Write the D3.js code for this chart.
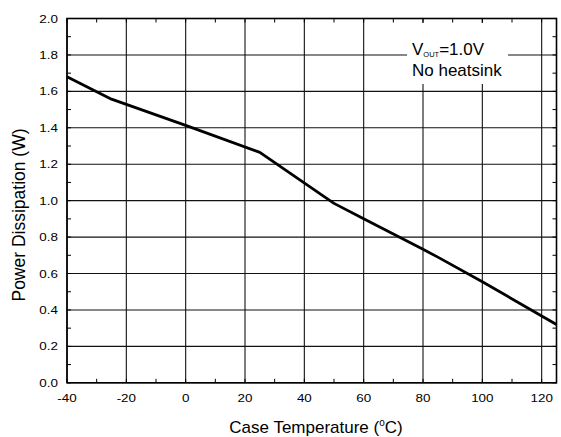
<!DOCTYPE html>
<html><head><meta charset="utf-8">
<script src="https://cdn.jsdelivr.net/npm/d3@7"></script>
<style>body{margin:0;background:#fff}text{font-family:"Liberation Sans",Arial,sans-serif;fill:#000}</style>
</head><body><svg id="c" width="561" height="437"></svg>
<script>
const temps = [-40, -25, 0, 25, 50, 60, 80, 85, 100, 120, 125];
const power = [1.68, 1.557, 1.413, 1.265, 0.985, 0.9, 0.733, 0.69, 0.555, 0.367, 0.32];
const xTicks = [-40, -20, 0, 20, 40, 60, 80, 100, 120];
const yTicks = [0.0, 0.2, 0.4, 0.6, 0.8, 1.0, 1.2, 1.4, 1.6, 1.8, 2.0];
const xMinor = d3.range(-40, 126, 10);
const yMinor = d3.range(0, 2.01, 0.1);

const svg = d3.select("#c");
const L = 67, R = 556.5, T = 18.5, B = 382.8;
const x = d3.scaleLinear().domain([-40, 125]).range([L, R]);
const y = d3.scaleLinear().domain([0, 2.0]).range([B, T]);

const g = svg.append("g");
g.selectAll(".gx").data(xTicks).join("line")
  .attr("x1", d => x(d)).attr("x2", d => x(d)).attr("y1", T).attr("y2", B)
  .attr("stroke", "#111").attr("stroke-width", 1.1);
g.selectAll(".gy").data(yTicks).join("line")
  .attr("y1", d => y(d)).attr("y2", d => y(d)).attr("x1", L).attr("x2", R)
  .attr("stroke", "#111").attr("stroke-width", 1.1);

// annotation box
svg.append("rect").attr("x", 407).attr("y", 23).attr("width", 101).attr("height", 61).attr("fill", "#fff");
const t1 = svg.append("text").attr("x", 412).attr("y", 55).attr("font-size", 17);
t1.append("tspan").text("V");
t1.append("tspan").attr("font-size", 7.5).attr("dy", 2).text("OUT");
t1.append("tspan").attr("dy", -2).text("=1.0V");
svg.append("text").attr("x", 412).attr("y", 76).attr("font-size", 17).text("No heatsink");

// minor ticks inward on all sides
const tl = 4;
svg.selectAll(".mb").data(xMinor).join("line")
  .attr("x1", d => x(d)).attr("x2", d => x(d)).attr("y1", B).attr("y2", B - tl).attr("stroke", "#000");
svg.selectAll(".mt").data(xMinor).join("line")
  .attr("x1", d => x(d)).attr("x2", d => x(d)).attr("y1", T).attr("y2", T + tl).attr("stroke", "#000");
svg.selectAll(".ml").data(yMinor).join("line")
  .attr("y1", d => y(d)).attr("y2", d => y(d)).attr("x1", L).attr("x2", L + tl).attr("stroke", "#000");
svg.selectAll(".mr").data(yMinor).join("line")
  .attr("y1", d => y(d)).attr("y2", d => y(d)).attr("x1", R).attr("x2", R - tl).attr("stroke", "#000");

// frame
svg.append("rect").attr("x", L).attr("y", T).attr("width", R - L).attr("height", B - T)
  .attr("fill", "none").attr("stroke", "#000").attr("stroke-width", 1.6);

// line
const data = temps.map((t, i) => [t, power[i]]);
svg.append("path").datum(data)
  .attr("d", d3.line().x(d => x(d[0])).y(d => y(d[1])))
  .attr("fill", "none").attr("stroke", "#000").attr("stroke-width", 2.8).attr("stroke-linejoin", "round");

// tick labels (slightly wide, as in the reference)
const fx = d3.format("d"), fy = d3.format(".1f");
svg.selectAll(".xl").data(xTicks).join("text")
  .attr("transform", d => `translate(${x(d)},401.5) scale(1.22,1)`)
  .attr("text-anchor", "middle").attr("font-size", 11)
  .text(d => fx(d).replace("\u2212", "-"));
svg.selectAll(".yl").data(yTicks).join("text")
  .attr("transform", d => `translate(58,${y(d) + 4}) scale(1.22,1)`)
  .attr("text-anchor", "end").attr("font-size", 11)
  .text(d => fy(d));

// axis titles
const xt = svg.append("text").attr("x", 316).attr("y", 433).attr("text-anchor", "middle").attr("font-size", 17);
xt.append("tspan").text("Case Temperature (");
xt.append("tspan").attr("font-size", 10).attr("dy", -7).text("o");
xt.append("tspan").attr("dy", 7).text("C)");
svg.append("text").attr("transform", "translate(25,215) rotate(-90)").attr("text-anchor", "middle")
  .attr("font-size", 17.5).text("Power Dissipation (W)");
</script></body></html>
